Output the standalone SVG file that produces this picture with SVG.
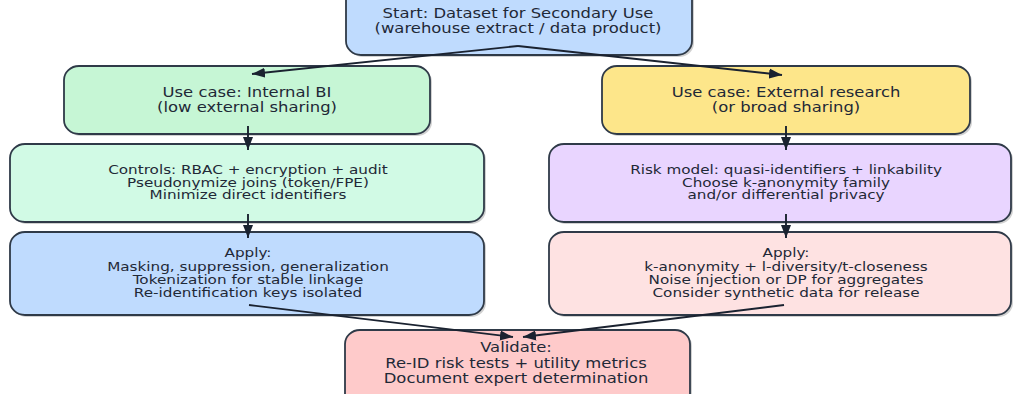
<svg xmlns="http://www.w3.org/2000/svg" width="1013" height="394" viewBox="0 0 1013 394">
<defs>
<marker id="ah" markerUnits="userSpaceOnUse" markerWidth="14" markerHeight="11" refX="13" refY="5.5" orient="auto">
<path d="M0,0.5 L13,5.5 L0,10.5 Z" fill="#1a2230"/>
</marker>
</defs>
<style>
.box{stroke:#2f3a48;stroke-width:1.8}
.sh{fill:#000;opacity:0.18}
text{font-family:"DejaVu Sans","Liberation Sans",sans-serif;fill:#1f2937;text-anchor:middle}
.b{font-size:13.8px}
.s{font-size:12.8px}
.c{stroke:#1a2230;stroke-width:1.9;fill:none;marker-end:url(#ah)}
</style>
<rect width="1013" height="394" fill="#ffffff"/>
<g id="start">
<rect class="sh" x="348" y="-18" width="346" height="75" rx="15" ry="14"/>
<rect class="box" x="346" y="-20" width="346" height="75" rx="15" ry="14" fill="#bfdbfe"/>
<text class="b" transform="translate(518 0) scale(1.19 1)" x="0" y="18.3">Start: Dataset for Secondary Use</text>
<text class="b" transform="translate(518 0) scale(1.19 1)" x="0" y="32.8">(warehouse extract / data product)</text>
</g>
<g id="internal">
<rect class="sh" x="66" y="68" width="366" height="68" rx="15" ry="14"/>
<rect class="box" x="64" y="66" width="366" height="68" rx="15" ry="14" fill="#c6f6d5"/>
<text class="b" transform="translate(247 0) scale(1.19 1)" x="0" y="97">Use case: Internal BI</text>
<text class="b" transform="translate(247 0) scale(1.19 1)" x="0" y="111.8">(low external sharing)</text>
</g>
<g id="external">
<rect class="sh" x="604" y="68" width="368" height="68" rx="15" ry="14"/>
<rect class="box" x="602" y="66" width="368" height="68" rx="15" ry="14" fill="#fde68a"/>
<text class="b" transform="translate(786 0) scale(1.19 1)" x="0" y="97">Use case: External research</text>
<text class="b" transform="translate(786 0) scale(1.19 1)" x="0" y="111.8">(or broad sharing)</text>
</g>
<g id="controls">
<rect class="sh" x="12" y="146" width="474" height="78" rx="15" ry="14"/>
<rect class="box" x="10" y="144" width="474" height="78" rx="15" ry="14" fill="#d1fae5"/>
<text class="s" transform="translate(248 0) scale(1.19 1)" x="0" y="173.7">Controls: RBAC + encryption + audit</text>
<text class="s" transform="translate(248 0) scale(1.19 1)" x="0" y="186.7">Pseudonymize joins (token/FPE)</text>
<text class="s" transform="translate(248 0) scale(1.19 1)" x="0" y="199.5">Minimize direct identifiers</text>
</g>
<g id="risk">
<rect class="sh" x="551" y="146" width="462" height="78" rx="15" ry="14"/>
<rect class="box" x="549" y="144" width="462" height="78" rx="15" ry="14" fill="#e9d5ff"/>
<text class="s" transform="translate(786 0) scale(1.19 1)" x="0" y="173.7">Risk model: quasi-identifiers + linkability</text>
<text class="s" transform="translate(786 0) scale(1.19 1)" x="0" y="186.7">Choose k-anonymity family</text>
<text class="s" transform="translate(786 0) scale(1.19 1)" x="0" y="199.5">and/or differential privacy</text>
</g>
<g id="applyInternal">
<rect class="sh" x="12" y="234" width="474" height="83" rx="15" ry="14"/>
<rect class="box" x="10" y="232" width="474" height="83" rx="15" ry="14" fill="#bfdbfe"/>
<text class="s" transform="translate(248 0) scale(1.19 1)" x="0" y="257.3">Apply:</text>
<text class="s" transform="translate(248 0) scale(1.19 1)" x="0" y="270.7">Masking, suppression, generalization</text>
<text class="s" transform="translate(248 0) scale(1.19 1)" x="0" y="283.7">Tokenization for stable linkage</text>
<text class="s" transform="translate(248 0) scale(1.19 1)" x="0" y="296.9">Re-identification keys isolated</text>
</g>
<g id="applyExternal">
<rect class="sh" x="551" y="234" width="462" height="83" rx="15" ry="14"/>
<rect class="box" x="549" y="232" width="462" height="83" rx="15" ry="14" fill="#fee2e2"/>
<text class="s" transform="translate(786 0) scale(1.19 1)" x="0" y="257.3">Apply:</text>
<text class="s" transform="translate(786 0) scale(1.19 1)" x="0" y="270.7">k-anonymity + l-diversity/t-closeness</text>
<text class="s" transform="translate(786 0) scale(1.19 1)" x="0" y="283.7">Noise injection or DP for aggregates</text>
<text class="s" transform="translate(786 0) scale(1.19 1)" x="0" y="296.9">Consider synthetic data for release</text>
</g>
<g id="validate">
<rect class="sh" x="347" y="332" width="345" height="80" rx="15" ry="14"/>
<rect class="box" x="345" y="330" width="345" height="80" rx="15" ry="14" fill="#fecaca"/>
<text class="b" transform="translate(516 0) scale(1.19 1)" x="0" y="352.3">Validate:</text>
<text class="b" transform="translate(516 0) scale(1.19 1)" x="0" y="367.7">Re-ID risk tests + utility metrics</text>
<text class="b" transform="translate(516 0) scale(1.19 1)" x="0" y="383.3">Document expert determination</text>
</g>
<g id="connectors">
<line class="c" x1="518" y1="46" x2="252" y2="74"/>
<line class="c" x1="518" y1="46" x2="782" y2="75"/>
<line class="c" x1="248" y1="126" x2="248" y2="150"/>
<line class="c" x1="786" y1="126" x2="786" y2="150"/>
<line class="c" x1="248" y1="214" x2="248" y2="238"/>
<line class="c" x1="786" y1="214" x2="786" y2="238"/>
<line class="c" x1="249" y1="305" x2="513" y2="337"/>
<line class="c" x1="784" y1="305" x2="523" y2="337"/>
</g>
</svg>
